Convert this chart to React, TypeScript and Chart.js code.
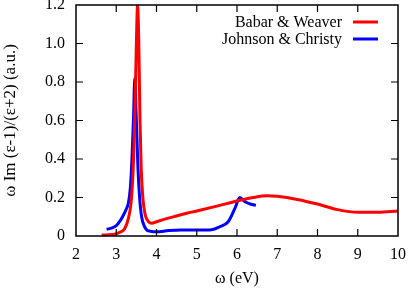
import React, { useEffect, useRef } from "react";
import { Chart, registerables } from "chart.js";

Chart.register(...registerables);

const babarX = [2.64, 2.9, 3.0, 3.1, 3.2, 3.3, 3.38, 3.43, 3.47, 3.5, 3.53, 3.56, 3.59, 3.62, 3.66, 3.72, 3.8, 3.88, 4.0, 4.25, 4.5, 4.75, 5.0, 5.5, 6.0, 6.4, 6.75, 7.0, 7.5, 8.0, 8.5, 9.0, 9.5, 10.0];
const babarY = [0.005, 0.008, 0.012, 0.02, 0.035, 0.09, 0.2, 0.4, 0.7, 1.0, 1.2, 1.0, 0.6, 0.35, 0.2, 0.11, 0.075, 0.066, 0.074, 0.09, 0.104, 0.118, 0.13, 0.155, 0.182, 0.2, 0.209, 0.206, 0.19, 0.166, 0.137, 0.123, 0.124, 0.13];

const johnsonX = [2.76, 2.9, 3.0, 3.1, 3.18, 3.25, 3.3, 3.35, 3.39, 3.43, 3.46, 3.5, 3.54, 3.58, 3.63, 3.7, 3.76, 3.85, 4.0, 4.3, 4.6, 5.0, 5.37, 5.57, 5.78, 5.95, 6.07, 6.2, 6.35, 6.47];
const johnsonY = [0.035, 0.042, 0.054, 0.08, 0.109, 0.14, 0.17, 0.25, 0.4, 0.62, 0.82, 0.6, 0.35, 0.2, 0.1, 0.05, 0.031, 0.025, 0.022, 0.028, 0.031, 0.031, 0.033, 0.048, 0.074, 0.145, 0.2, 0.178, 0.165, 0.16];

const xTicks = [2, 3, 4, 5, 6, 7, 8, 9, 10];
const yTicks = [0, 0.2, 0.4, 0.6, 0.8, 1, 1.2];

const seriesLabels = ["Babar & Weaver", "Johnson & Christy"];
const FONT = "'Liberation Serif', 'Times New Roman', serif";

const frameTicks = {
  id: "frameTicks",
  afterDraw(chart: any) {
    const ctx = chart.ctx;
    const a = chart.chartArea;
    const xs = chart.scales["x"];
    const ys = chart.scales["y"];
    const L = 7;
    ctx.save();
    ctx.strokeStyle = "#000";
    ctx.lineWidth = 1.5;
    ctx.strokeRect(a.left, a.top, a.right - a.left, a.bottom - a.top);
    ctx.lineWidth = 1.2;
    ctx.beginPath();
    for (let i = 1; i < xTicks.length - 1; i++) {
      const px = xs.getPixelForValue(xTicks[i]);
      ctx.moveTo(px, a.bottom);
      ctx.lineTo(px, a.bottom - L);
      ctx.moveTo(px, a.top);
      ctx.lineTo(px, a.top + L);
    }
    for (let i = 1; i < yTicks.length - 1; i++) {
      const py = ys.getPixelForValue(yTicks[i]);
      ctx.moveTo(a.left, py);
      ctx.lineTo(a.left + L, py);
      ctx.moveTo(a.right, py);
      ctx.lineTo(a.right - L, py);
    }
    ctx.stroke();

    ctx.font = `16px ${FONT}`;
    ctx.textAlign = "right";
    ctx.textBaseline = "middle";
    const textRight = a.right - 56;
    const lineX0 = a.right - 45;
    const lineX1 = a.right - 20;
    chart.data.datasets.forEach((ds: any, i: number) => {
      const y = a.top + 17 + i * 17;
      ctx.fillStyle = "#000";
      ctx.fillText(ds.label, textRight, y + 1);
      ctx.strokeStyle = ds.borderColor;
      ctx.lineWidth = 3;
      ctx.beginPath();
      ctx.moveTo(lineX0, y);
      ctx.lineTo(lineX1, y);
      ctx.stroke();
    });
    ctx.restore();
  },
};

export default function App() {
  const ref = useRef<HTMLCanvasElement>(null);
  useEffect(() => {
    if (!ref.current) return;
    const chart = new Chart(ref.current, {
      type: "line",
      data: {
        datasets: [
          {
            label: seriesLabels[0],
            data: babarX.map((x, i) => ({ x, y: babarY[i] })),
            borderColor: "#ff0000",
            borderWidth: 3,
            pointRadius: 0,
            cubicInterpolationMode: "monotone",
            fill: false,
          },
          {
            label: seriesLabels[1],
            data: johnsonX.map((x, i) => ({ x, y: johnsonY[i] })),
            borderColor: "#0000ff",
            borderWidth: 3,
            pointRadius: 0,
            cubicInterpolationMode: "monotone",
            fill: false,
          },
        ],
      },
      options: {
        responsive: false,
        animation: false,
        layout: { padding: { left: 0, top: 5, right: 11, bottom: 0 } },
        plugins: { legend: { display: false }, tooltip: { enabled: false } },
        scales: {
          x: {
            type: "linear",
            min: 2,
            max: 10,
            afterFit: (s: any) => { s.height = 52; s.paddingLeft = 0; s.paddingRight = 0; },
            afterBuildTicks: (s: any) => { s.ticks = xTicks.map((v) => ({ value: v })); },
            grid: { display: false, drawTicks: false },
            border: { display: false },
            ticks: { color: "#000", font: { family: FONT, size: 16 }, padding: 9, maxRotation: 0 },
            title: { display: true, text: "ω (eV)", color: "#000", font: { family: FONT, size: 16 }, padding: 0 },
          },
          y: {
            type: "linear",
            min: 0,
            max: 1.2,
            afterFit: (s: any) => { s.width = 76; s.paddingTop = 0; s.paddingBottom = 0; },
            afterBuildTicks: (s: any) => { s.ticks = yTicks.map((v) => ({ value: v })); },
            grid: { display: false, drawTicks: false },
            border: { display: false },
            ticks: { color: "#000", font: { family: FONT, size: 16 }, padding: 11 },
            title: { display: true, text: "ω Im (ε-1)/(ε+2) (a.u.)", color: "#000", font: { family: FONT, size: 17 }, padding: { top: 0, bottom: 0 } },
          },
        },
      },
      plugins: [frameTicks],
    });
    return () => chart.destroy();
  }, []);
  return (
    <div style={{ position: "absolute", left: 0, top: 0, width: 409, height: 288, background: "#fff" }}>
      <canvas ref={ref} width={409} height={288} style={{ display: "block" }} />
    </div>
  );
}
